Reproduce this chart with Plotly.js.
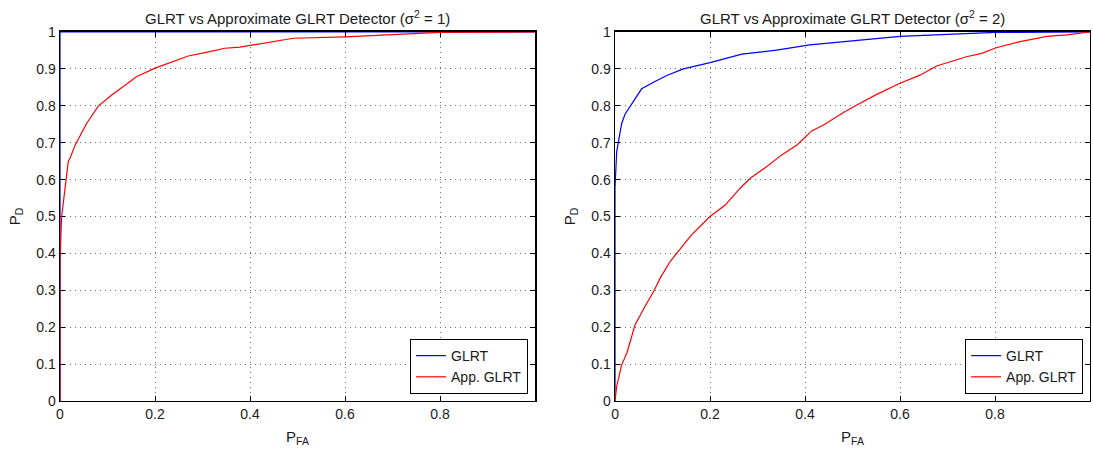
<!DOCTYPE html>
<html>
<head>
<meta charset="utf-8">
<script src="https://cdn.plot.ly/plotly-3.0.1.min.js"></script>
<style>
html,body{margin:0;padding:0;background:#fff;}
#chart{width:1093px;height:450px;}
</style>
</head>
<body>
<div id="chart"></div>
<script>
// ---- Data ----
// Left panel: sigma^2 = 1
const glrt1_pfa = [0, 0, 0, 1];
const glrt1_pd  = [0, 0.999, 1, 1];
const app1_pfa = [0, 0, 0.0035, 0.0105, 0.0175, 0.021, 0.032, 0.056, 0.081, 0.109, 0.133, 0.161, 0.2, 0.232, 0.27, 0.305, 0.347, 0.379, 0.404, 0.491, 0.6, 0.8, 1];
const app1_pd  = [0, 0.38, 0.5, 0.583, 0.65, 0.658, 0.694, 0.752, 0.8, 0.829, 0.852, 0.879, 0.902, 0.918, 0.935, 0.944, 0.956, 0.959, 0.964, 0.983, 0.987, 0.999, 1];

// Right panel: sigma^2 = 2
const glrt2_pfa = [0, 0, 0.0035, 0.014, 0.021, 0.0386, 0.056, 0.081, 0.109, 0.144, 0.2, 0.267, 0.34, 0.41, 0.6, 0.8, 1];
const glrt2_pd  = [0, 0.58, 0.676, 0.752, 0.777, 0.811, 0.846, 0.864, 0.882, 0.9, 0.917, 0.94, 0.951, 0.965, 0.988, 0.999, 1];
const app2_pfa = [0, 0.0035, 0.014, 0.025, 0.042, 0.053, 0.063, 0.081, 0.095, 0.116, 0.14, 0.161, 0.2, 0.232, 0.263, 0.284, 0.319, 0.351, 0.383, 0.4, 0.414, 0.439, 0.481, 0.509, 0.551, 0.6, 0.642, 0.677, 0.712, 0.74, 0.772, 0.804, 0.853, 0.909, 0.951, 1];
const app2_pd  = [0, 0.04, 0.098, 0.13, 0.206, 0.233, 0.256, 0.296, 0.333, 0.378, 0.418, 0.45, 0.5, 0.531, 0.576, 0.603, 0.635, 0.667, 0.694, 0.716, 0.732, 0.748, 0.782, 0.802, 0.831, 0.861, 0.883, 0.908, 0.921, 0.933, 0.942, 0.958, 0.974, 0.988, 0.992, 1];

const seriesNames = ['GLRT', 'App. GLRT'];
const titles = ['GLRT vs Approximate GLRT Detector (&#963;<sup>2</sup> = 1)', 'GLRT vs Approximate GLRT Detector (&#963;<sup>2</sup> = 2)'];
const xTickVals = [0, 0.2, 0.4, 0.6, 0.8, 1];
const xTickTextLeft = ['0', '0.2', '0.4', '0.6', '0.8', ''];
const xTickTextRight = ['0', '0.2', '0.4', '0.6', '0.8', '1'];
const yTickVals = [0, 0.1, 0.2, 0.3, 0.4, 0.5, 0.6, 0.7, 0.8, 0.9, 1];
const yTickText = ['0', '0.1', '0.2', '0.3', '0.4', '0.5', '0.6', '0.7', '0.8', '0.9', '1'];

const BLUE = 'rgb(0,0,255)';
const RED = 'rgb(255,0,0)';
const FONT = 'Liberation Sans, Arial, sans-serif';
const TXT = '#1a1a1a';

const traces = [
  {x: glrt1_pfa, y: glrt1_pd, name: seriesNames[0], mode: 'lines', line: {color: BLUE, width: 1.2}, xaxis: 'x', yaxis: 'y', legend: 'legend', cliponaxis: false},
  {x: app1_pfa, y: app1_pd, name: seriesNames[1], mode: 'lines', line: {color: RED, width: 1.2}, xaxis: 'x', yaxis: 'y', legend: 'legend', cliponaxis: false},
  {x: glrt2_pfa, y: glrt2_pd, name: seriesNames[0], mode: 'lines', line: {color: BLUE, width: 1.2}, xaxis: 'x2', yaxis: 'y2', legend: 'legend2', cliponaxis: false},
  {x: app2_pfa, y: app2_pd, name: seriesNames[1], mode: 'lines', line: {color: RED, width: 1.2}, xaxis: 'x2', yaxis: 'y2', legend: 'legend2', cliponaxis: false}
];

function common() {
  return {
    range: [0, 1],
    showgrid: true, gridcolor: 'rgb(110,110,110)', griddash: '1px,4px', gridwidth: 1,
    zeroline: false, showline: true, linecolor: 'black', linewidth: 1.5, mirror: 'ticks',
    ticks: 'inside', ticklen: 5, tickcolor: 'black', layer: 'below traces',
    tickfont: {family: FONT, size: 14, color: TXT}
  };
}
function xax(domain, ticktext, anchor) {
  return Object.assign(common(), {
    domain: domain, tickvals: xTickVals, ticktext: ticktext, anchor: anchor,
    title: {text: 'P<sub>FA</sub>', font: {family: FONT, size: 15, color: TXT}, standoff: 10}
  });
}
function yax(anchor) {
  return Object.assign(common(), {
    domain: [0.1089, 0.9289], tickvals: yTickVals, ticktext: yTickText, anchor: anchor,
    title: {text: 'P<sub>D</sub>', font: {family: FONT, size: 15, color: TXT}, standoff: 12}
  });
}

const legendBase = {
  bgcolor: 'white', bordercolor: 'black', borderwidth: 1,
  font: {family: FONT, size: 14, color: TXT},
  xanchor: 'right', yanchor: 'bottom', y: 0.1244, tracegroupgap: 0, itemwidth: 30
};

const layout = {
  width: 1093, height: 450,
  margin: {l: 0, r: 0, t: 0, b: 0},
  paper_bgcolor: 'white', plot_bgcolor: 'white',
  showlegend: true,
  xaxis: xax([0.0549, 0.4895], xTickTextLeft, 'y'),
  yaxis: yax('x'),
  xaxis2: xax([0.5627, 0.99725], xTickTextRight, 'y2'),
  yaxis2: yax('x2'),
  legend: Object.assign({}, legendBase, {x: 0.4831}),
  legend2: Object.assign({}, legendBase, {x: 0.9909}),
  annotations: [
    {text: titles[0], xref: 'paper', yref: 'paper', x: (0.0549 + 0.4895) / 2, y: 0.962, xanchor: 'center', yanchor: 'middle', showarrow: false, font: {family: FONT, size: 15, color: TXT}},
    {text: titles[1], xref: 'paper', yref: 'paper', x: (0.5627 + 0.99725) / 2, y: 0.962, xanchor: 'center', yanchor: 'middle', showarrow: false, font: {family: FONT, size: 15, color: TXT}}
  ]
};

Plotly.newPlot('chart', traces, layout, {displayModeBar: false, staticPlot: true});
</script>
</body>
</html>
